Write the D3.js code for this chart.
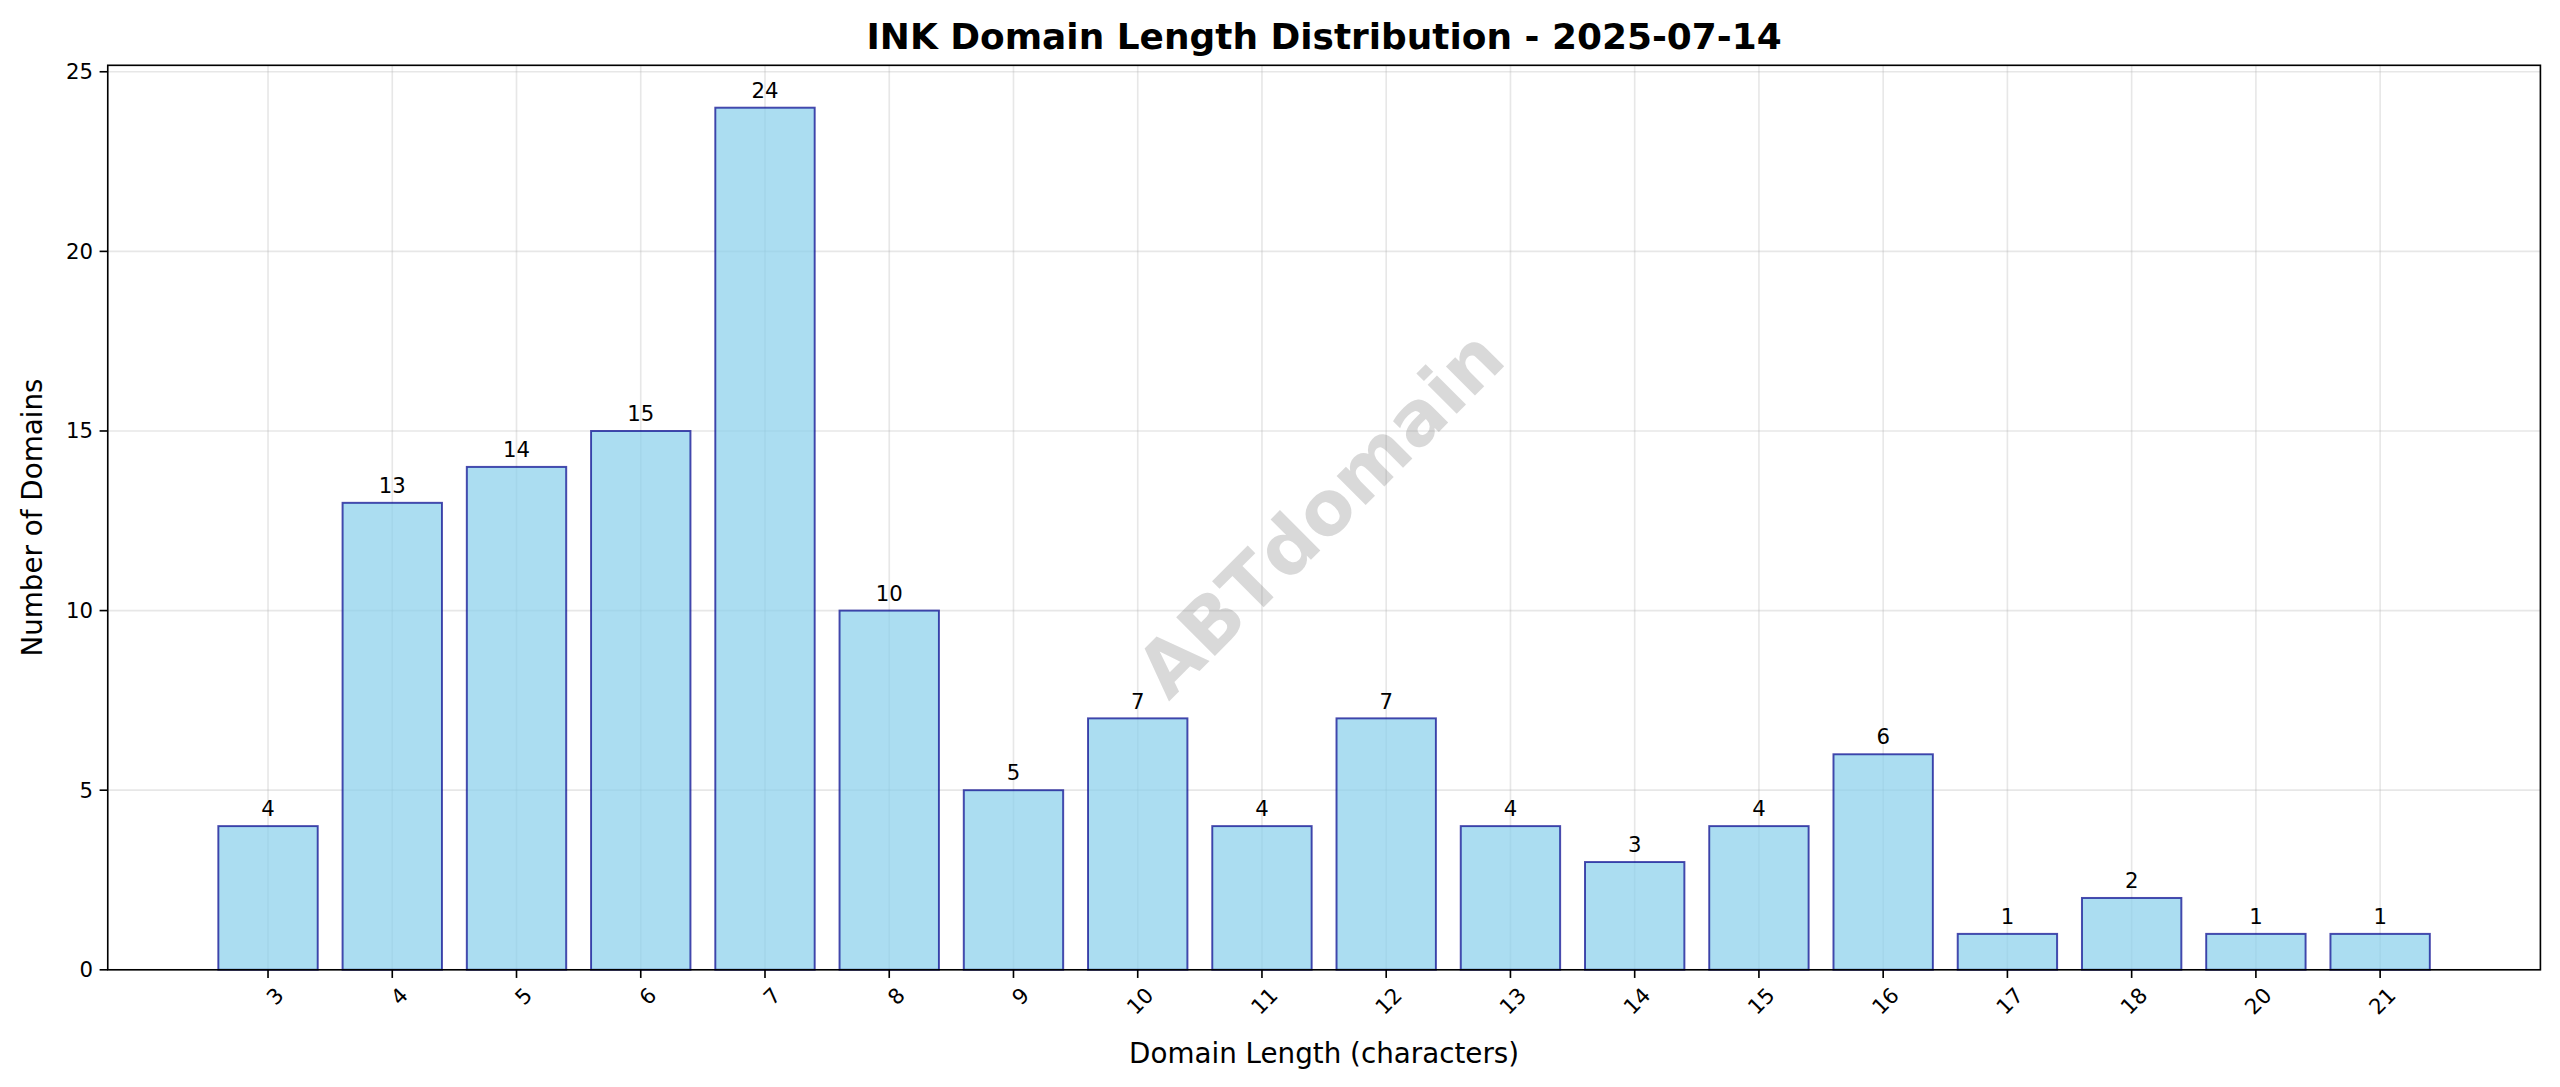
<!DOCTYPE html>
<html><head><meta charset="utf-8">
<script src="https://cdn.jsdelivr.net/npm/d3@7"></script>
<style>body{margin:0;background:#fff}text{font-family:"DejaVu Sans",sans-serif}</style>
</head><body>
<svg id="c" width="2560" height="1087"></svg>
<script>
const categories=["3","4","5","6","7","8","9","10","11","12","13","14","15","16","17","18","20","21"];
const values=[4,13,14,15,24,10,5,7,4,7,4,3,4,6,1,2,1,1];
const yTicks=[0,5,10,15,20,25];
const k=2560/1568;
const svg=d3.select("#c").append("g").attr("transform",`scale(${k})`);
const L=66,R=1556,T=40,B=594;
const x=d3.scaleLinear().domain([-1.29,18.29]).range([L,R]);
const y=d3.scaleLinear().domain([0,25.18]).range([B,T]);
const g=svg.append("g");
g.selectAll(".gx").data(categories).enter().append("line").attr("x1",(d,i)=>x(i)).attr("x2",(d,i)=>x(i)).attr("y1",T).attr("y2",B).attr("stroke","#b0b0b0").attr("stroke-opacity",0.3);
g.selectAll(".gy").data(yTicks).enter().append("line").attr("x1",L).attr("x2",R).attr("y1",d=>y(d)).attr("y2",d=>y(d)).attr("stroke","#b0b0b0").attr("stroke-opacity",0.3);
const bw=x(0.8)-x(0);
g.selectAll(".b").data(values).enter().append("rect").attr("x",(d,i)=>x(i)-bw/2).attr("width",bw).attr("y",d=>y(d)).attr("height",d=>B-y(d)).attr("fill","#87ceeb").attr("fill-opacity",0.7).attr("stroke","#00008b").attr("stroke-opacity",0.7).attr("stroke-width",1.2);
g.selectAll(".v").data(values).enter().append("text").attr("x",(d,i)=>x(i)).attr("y",d=>y(d)-6).attr("text-anchor","middle").attr("font-size",13).text(d=>d);
svg.append("text").attr("transform","translate(811,317) rotate(-45)").attr("text-anchor","middle").attr("dominant-baseline","middle").attr("font-size",46).attr("font-weight","bold").attr("fill","#808080").attr("fill-opacity",0.3).text("ABTdomain");
svg.append("rect").attr("x",L).attr("y",T).attr("width",R-L).attr("height",B-T).attr("fill","none").attr("stroke","#000").attr("stroke-width",1);
yTicks.forEach(t=>{svg.append("line").attr("x1",L-5).attr("x2",L).attr("y1",y(t)).attr("y2",y(t)).attr("stroke","#000");
svg.append("text").attr("x",L-9).attr("y",y(t)).attr("dy","0.35em").attr("text-anchor","end").attr("font-size",13).text(t);});
categories.forEach((c,i)=>{svg.append("line").attr("x1",x(i)).attr("x2",x(i)).attr("y1",B).attr("y2",B+5).attr("stroke","#000");
svg.append("text").attr("transform",`translate(${x(i)+4},${B+10}) rotate(-45)`).attr("text-anchor","end").attr("dy","0.7em").attr("font-size",13).text(c);});
svg.append("text").attr("x",811).attr("y",651).attr("text-anchor","middle").attr("font-size",17).text("Domain Length (characters)");
svg.append("text").attr("transform","translate(26,317) rotate(-90)").attr("text-anchor","middle").attr("font-size",17).text("Number of Domains");
svg.append("text").attr("x",811).attr("y",30).attr("text-anchor","middle").attr("font-size",22).attr("font-weight","bold").text("INK Domain Length Distribution - 2025-07-14");
</script></body></html>
